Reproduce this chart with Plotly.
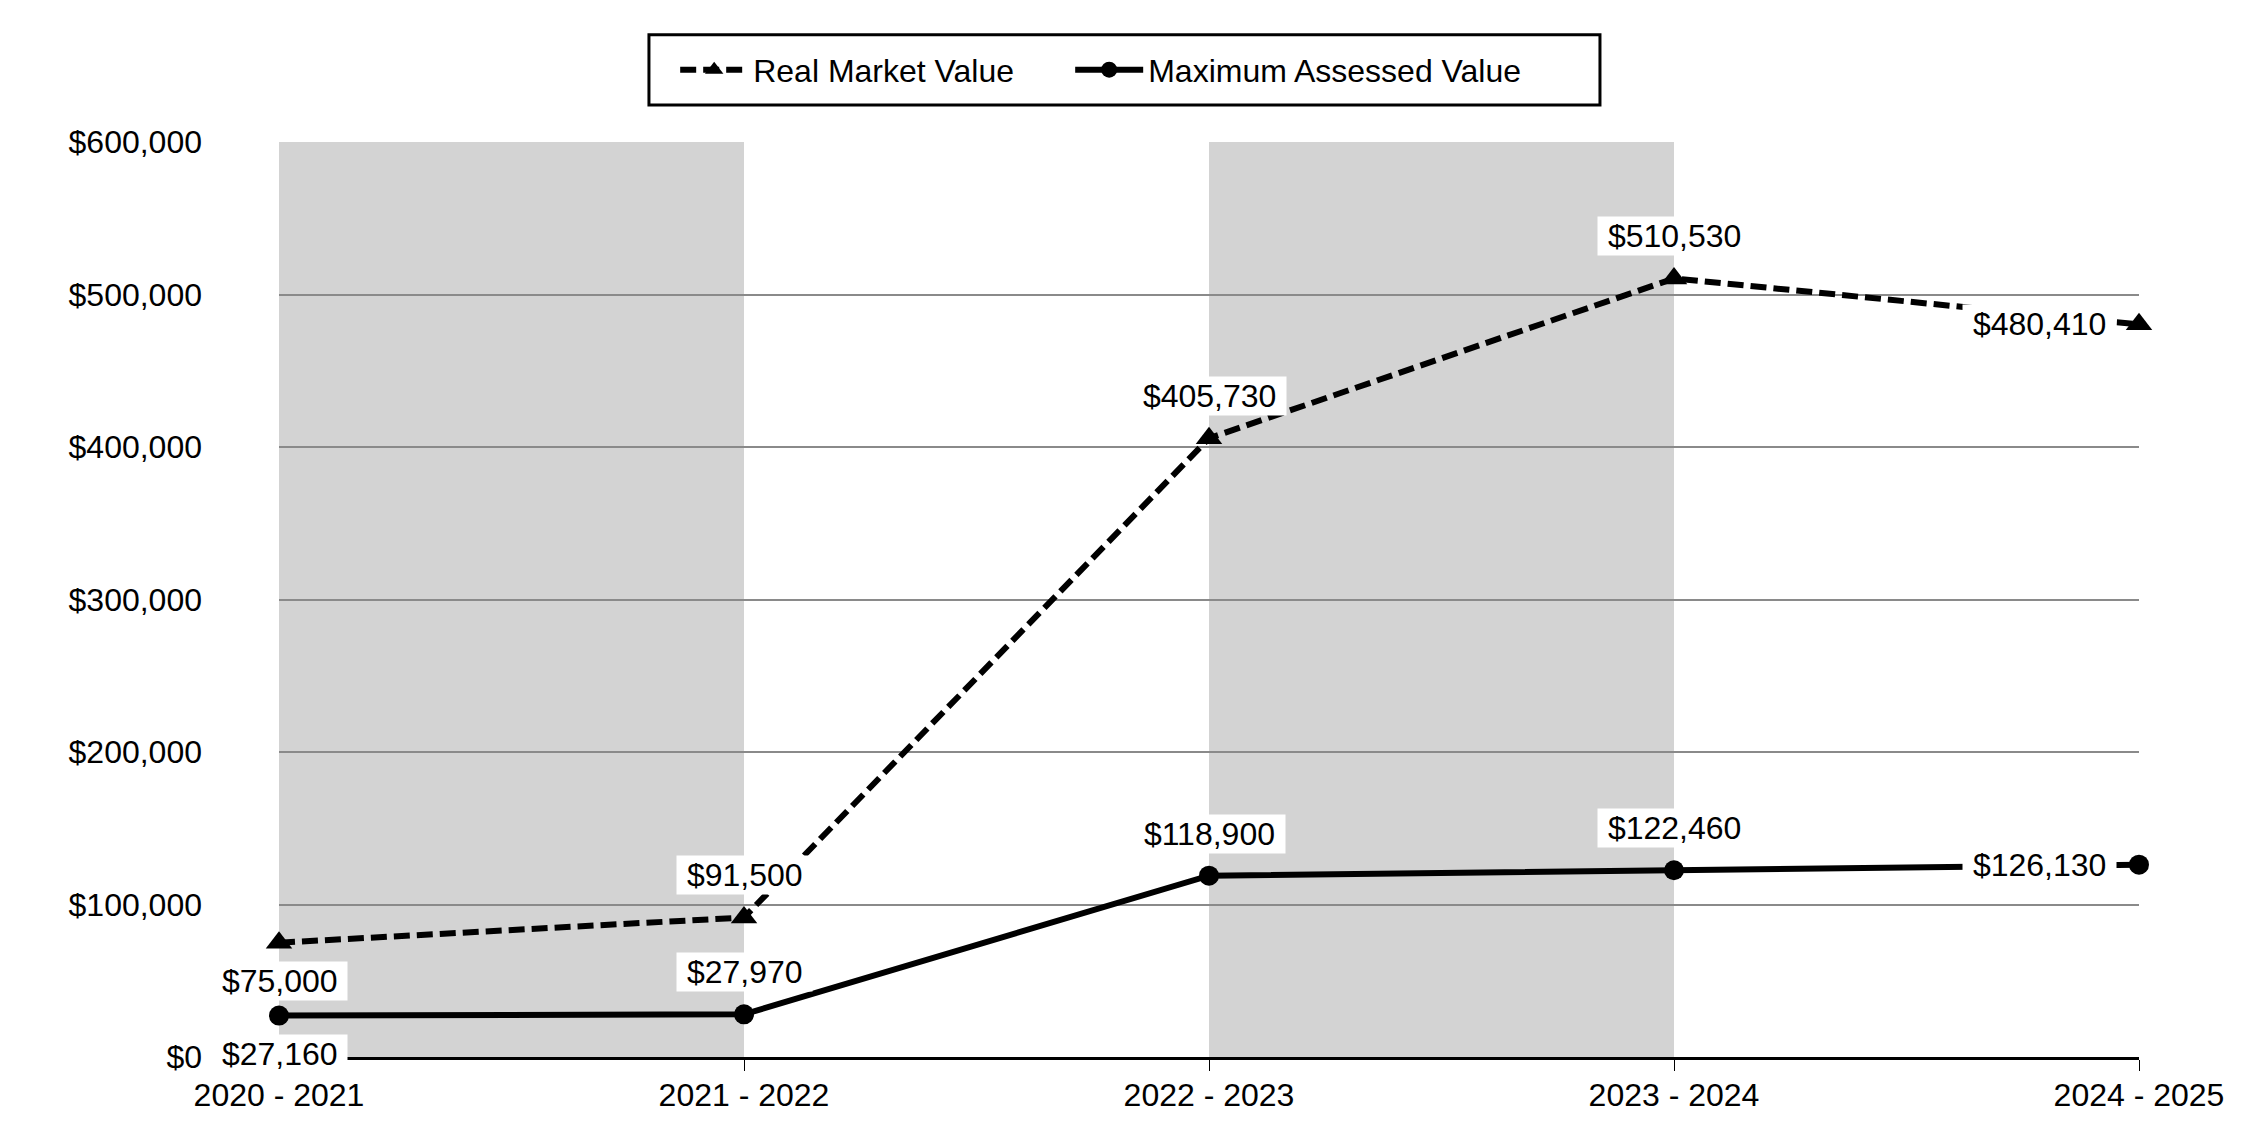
import plotly.graph_objects as go

# ---- data ----
years = ["2020 - 2021", "2021 - 2022", "2022 - 2023", "2023 - 2024", "2024 - 2025"]
real_market_value = [75000, 91500, 405730, 510530, 480410]
max_assessed_value = [27160, 27970, 118900, 122460, 126130]
y_tick_values = [0, 100000, 200000, 300000, 400000, 500000, 600000]
y_tick_labels = ["$0", "$100,000", "$200,000", "$300,000", "$400,000", "$500,000", "$600,000"]
shaded_periods = [("2020 - 2021", "2021 - 2022"), ("2022 - 2023", "2023 - 2024")]
label_positions = ["below", "above", "above", "above", "left"]

FONT = "Arial, 'Liberation Sans', sans-serif"
FS = 32

fig = go.Figure()

fig.add_trace(go.Scatter(
    x=years, y=real_market_value, name="Real Market Value",
    mode="lines+markers",
    line=dict(color="black", width=6, dash="16px,7px"),
    marker=dict(symbol="triangle-up", size=23, color="black"),
    cliponaxis=False, legendwidth=312,
))
fig.add_trace(go.Scatter(
    x=years, y=max_assessed_value, name="Maximum Assessed Value",
    mode="lines+markers",
    line=dict(color="black", width=6),
    marker=dict(symbol="circle", size=20, color="black"),
    cliponaxis=False, legendwidth=400,
))

# shaded bands
for a, b in shaded_periods:
    fig.add_shape(type="rect", xref="x", yref="paper",
                  x0=years.index(a), x1=years.index(b), y0=0, y1=1,
                  fillcolor="#d3d3d3", line_width=0, layer="below")

# legend frame
fig.add_shape(type="rect", xref="paper", yref="paper",
              x0=0.1989, x1=0.7102, y0=1.0405, y1=1.1171,
              line=dict(color="black", width=3), fillcolor="rgba(0,0,0,0)",
              layer="above")

# data labels
nb = "\u00a0"
for values in (real_market_value, max_assessed_value):
    for i, (cat, v) in enumerate(zip(years, values)):
        pos = label_positions[i]
        kw = dict(xanchor="center", yanchor="middle", xshift=0, yshift=0)
        if pos == "above":
            kw["yshift"] = 42
        elif pos == "below":
            kw["yshift"] = -38
        elif pos == "left":
            kw.update(xanchor="right", xshift=-22)
        fig.add_annotation(
            x=cat, y=v, xref="x", yref="y",
            text=f"{nb}${v:,}{nb}", showarrow=False,
            bgcolor="white", borderpad=1,
            font=dict(family=FONT, size=FS, color="black"),
            **kw,
        )

fig.update_layout(
    width=2250, height=1140, autosize=False,
    margin=dict(l=279, r=111, t=142, b=83, pad=0),
    paper_bgcolor="white", plot_bgcolor="white",
    font=dict(family=FONT, size=FS, color="black"),
    showlegend=True,
    legend=dict(
        orientation="h", x=0.213, xanchor="left", y=1.0788, yanchor="middle",
        bgcolor="rgba(0,0,0,0)", borderwidth=0,
        font=dict(family=FONT, size=FS, color="black"),
        itemwidth=68, traceorder="normal",
    ),
)

fig.update_xaxes(
    type="category", range=[0, 4],
    showline=True, linecolor="black", linewidth=3,
    ticks="outside", ticklen=11, tickwidth=1, tickcolor="black",
    showgrid=False, zeroline=False,
    ticklabelstandoff=-3,
    tickfont=dict(family=FONT, size=FS, color="black"),
)
fig.update_yaxes(
    range=[0, 600000], tickvals=y_tick_values, ticktext=y_tick_labels,
    showgrid=True, gridcolor="#8a8a8a", gridwidth=2,
    zeroline=False, showline=False, ticks="",
    ticklabelstandoff=76,
    tickfont=dict(family=FONT, size=FS, color="black"),
)

fig.write_html("out.html", config={"displayModeBar": False},
               post_script="document.body.style.margin='0';")
